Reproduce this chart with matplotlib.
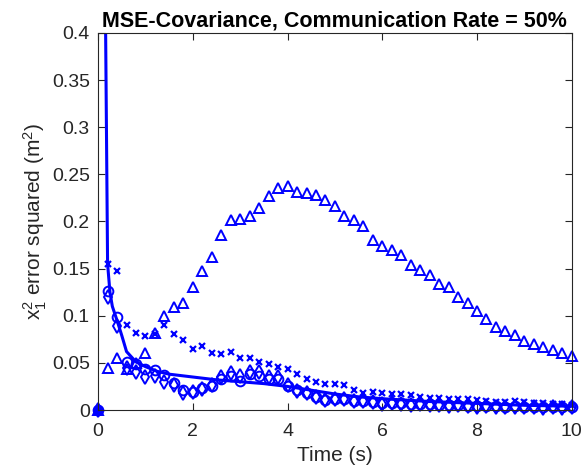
import numpy as np
import matplotlib
matplotlib.use("Agg")
import matplotlib.pyplot as plt

plt.rcParams['font.family'] = ['Liberation Sans', 'DejaVu Sans']
plt.rcParams['mathtext.fontset'] = 'custom'
plt.rcParams['mathtext.rm'] = 'Liberation Sans'
plt.rcParams['mathtext.it'] = 'Liberation Sans'

# sample times of the marker series (every 0.2 s)
t = np.round(np.arange(0, 10.01, 0.2), 2)

err_tri = [0, 0.045, 0.055, 0.044, 0.050, 0.060, 0.082, 0.100, 0.109, 0.113, 0.130,
           0.148, 0.162, 0.186, 0.202, 0.203, 0.206, 0.214, 0.227, 0.236, 0.238,
           0.231, 0.230, 0.228, 0.223, 0.216, 0.206, 0.202, 0.195, 0.180, 0.174,
           0.170, 0.164, 0.154, 0.149, 0.143, 0.134, 0.130, 0.120, 0.114, 0.105,
           0.097, 0.088, 0.084, 0.080, 0.073, 0.070, 0.067, 0.064, 0.061, 0.057]

err_x = [0, 0.155, 0.147, 0.090, 0.082, 0.079, 0.081, 0.090, 0.081, 0.074, 0.065,
         0.068, 0.061, 0.059, 0.062, 0.055, 0.055, 0.051, 0.049, 0.046, 0.043,
         0.038, 0.033, 0.030, 0.028, 0.028, 0.026, 0.021, 0.018, 0.019, 0.018,
         0.017, 0.017, 0.016, 0.014, 0.013, 0.013, 0.012, 0.012, 0.012, 0.011,
         0.010, 0.009, 0.009, 0.010, 0.008, 0.007, 0.007, 0.006, 0.006, 0.005]

err_circ = [0, 0.126, 0.099, 0.051, 0.049, 0.043, 0.042, 0.037, 0.029, 0.021, 0.019,
            0.023, 0.025, 0.033, 0.036, 0.031, 0.038, 0.036, 0.033, 0.033, 0.025,
            0.021, 0.018, 0.014, 0.011, 0.012, 0.012, 0.010, 0.010, 0.008, 0.007,
            0.007, 0.007, 0.006, 0.006, 0.006, 0.005, 0.005, 0.005, 0.004, 0.004,
            0.004, 0.004, 0.003, 0.004, 0.003, 0.003, 0.003, 0.003, 0.003, 0.003]

err_diam = [0, 0.120, 0.089, 0.045, 0.040, 0.035, 0.036, 0.030, 0.026, 0.018, 0.019,
            0.022, 0.026, 0.035, 0.039, 0.036, 0.040, 0.040, 0.035, 0.035, 0.026,
            0.020, 0.018, 0.014, 0.011, 0.012, 0.012, 0.010, 0.010, 0.008, 0.006,
            0.007, 0.006, 0.005, 0.006, 0.005, 0.005, 0.004, 0.005, 0.004, 0.003,
            0.004, 0.003, 0.003, 0.003, 0.003, 0.003, 0.002, 0.003, 0.002, 0.003]

# covariance-predicted error (solid curve)
t_cov = [0.1, 0.2, 0.25, 0.3, 0.4, 0.5, 0.6, 0.8, 1.0, 1.25, 1.5, 2.0, 2.5, 3.0,
         3.5, 4.0, 4.5, 5.0, 5.5, 6.0, 7.0, 8.0, 9.0, 10.0]
cov = [0.75, 0.155, 0.125, 0.110, 0.095, 0.079, 0.062, 0.051, 0.046, 0.041, 0.038,
       0.035, 0.032, 0.030, 0.028, 0.025, 0.021, 0.017, 0.014, 0.012, 0.009, 0.007,
       0.005, 0.004]

blue = (0, 0, 1)
grey = '#262626'

fig = plt.figure(figsize=(5.84, 4.71), dpi=100)
ax = fig.add_axes([0.168, 0.1295, 0.811, 0.8005])

ax.plot(t_cov, cov, '-', color=blue, lw=2.2)
series = [(err_tri, '^', 7.5, 1.4), (err_x, 'x', 4.5, 1.6),
          (err_circ, 'o', 7.0, 1.4), (err_diam, 'd', 7.5, 1.4)]
for vals, mk, ms, mew in series:
    ax.plot(t[1:], vals[1:], mk, color=blue, mfc='none', ms=ms, mew=mew, clip_on=False)
    ax.plot(t[:1], vals[:1], mk, color=blue, mfc=blue, ms=ms, mew=mew, clip_on=False)

ax.set_xlim(0, 10)
ax.set_ylim(0, 0.4)
ax.set_xticks([0, 2, 4, 6, 8, 10])
ax.set_yticks(np.round(np.arange(0, 0.401, 0.05), 2))
ax.set_yticklabels(['0', '0.05', '0.1', '0.15', '0.2', '0.25', '0.3', '0.35', '0.4'])
ax.tick_params(direction='in', top=True, right=True, length=5, width=0.8,
               labelsize=14, colors=grey)
ax.tick_params(axis='x', pad=9)
ax.tick_params(axis='y', pad=6)
for s in ax.spines.values():
    s.set_color(grey)
    s.set_linewidth(0.8)

ax.set_xlabel('Time (s)', fontsize=15, color=grey, labelpad=5)
ax.set_ylabel(r'x$_1^2$ error squared (m$^2$)', fontsize=15, color=grey, labelpad=2)
ax.set_title('MSE-Covariance, Communication Rate = 50%', fontsize=15.5,
             fontweight='bold', pad=5)

fig.savefig('out.png', dpi=100)
